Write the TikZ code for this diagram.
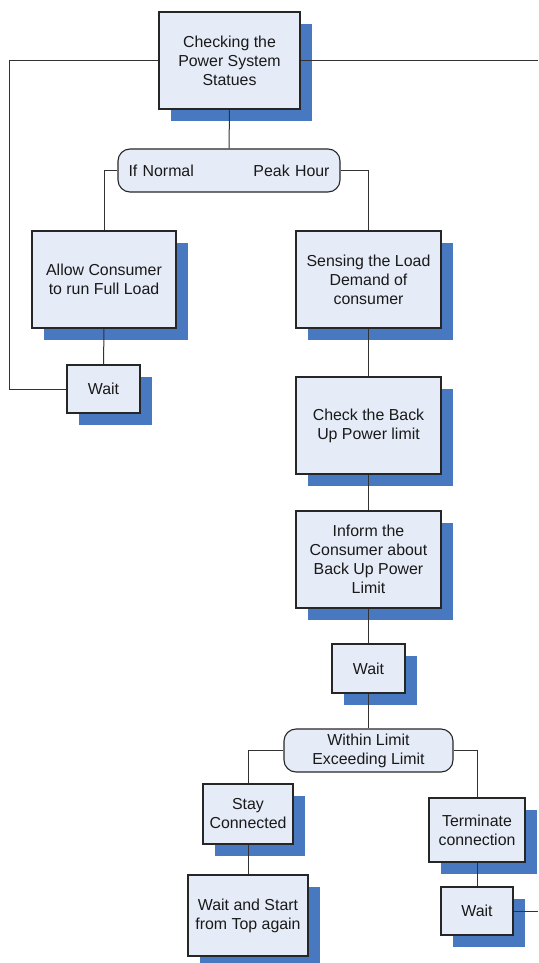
\documentclass[tikz,border=0pt]{standalone}
\usepackage{fontspec}
\setmainfont{Liberation Sans}
\usetikzlibrary{shadows}
\definecolor{boxfill}{RGB}{230,236,247}
\definecolor{shadowblue}{RGB}{72,120,192}
\definecolor{linegray}{RGB}{50,50,50}
\definecolor{textdark}{RGB}{25,25,25}
\tikzset{
  box/.style={draw=black!85, line width=1.1pt, fill=boxfill, text=textdark,
    align=center, inner sep=0pt, font=\fontsize{15.9}{19}\selectfont,
    drop shadow={shadow xshift=12pt, shadow yshift=-12pt, fill=shadowblue, opacity=1}},
  decbox/.style={draw=black!85, line width=1.1pt, fill=boxfill, text=textdark,
    rounded corners=12pt, inner sep=0pt, font=\fontsize{15.9}{19}\selectfont},
  conn/.style={draw=linegray, line width=1pt}
}
\begin{document}
\begin{tikzpicture}[x=1pt,y=-1pt]
\useasboundingbox (0,0) rectangle (538,963);
% nodes
\node[box, minimum width=141pt, minimum height=97pt] (top) at (229.5,60.5) {Checking the\\Power System\\Statues};
\node[decbox, minimum width=222pt, minimum height=43pt, text width=201pt, align=left] (dec1) at (229,170.5) {If Normal\hfill Peak Hour};
\node[box, minimum width=144pt, minimum height=97pt] (allow) at (104,279.5) {Allow Consumer\\to run Full Load};
\node[box, minimum width=73pt, minimum height=48pt] (wait1) at (103.5,389) {Wait};
\node[box, minimum width=145pt, minimum height=97pt] (sense) at (368.5,279.5) {Sensing the Load\\Demand of\\consumer};
\node[box, minimum width=145pt, minimum height=97pt] (check) at (368.5,425.5) {Check the Back\\Up Power limit};
\node[box, minimum width=145pt, minimum height=97pt] (inform) at (368.5,559.5) {Inform the\\Consumer about\\Back Up Power\\Limit};
\node[box, minimum width=73pt, minimum height=49pt] (wait2) at (368.5,668.5) {Wait};
\node[decbox, minimum width=169pt, minimum height=43pt, align=center] (dec2) at (368.5,750.5) {Within Limit\\Exceeding Limit};
\node[box, minimum width=90pt, minimum height=60pt] (stay) at (248,814) {Stay\\Connected};
\node[box, minimum width=120pt, minimum height=81pt] (waitstart) at (248,915.5) {Wait and Start\\from Top again};
\node[box, minimum width=96pt, minimum height=64pt] (term) at (477,830) {Terminate\\connection};
\node[box, minimum width=72pt, minimum height=48pt] (wait3) at (477,911) {Wait};
\coordinate (loopL) at (9,61);
\coordinate (outR1) at (538,61);
\coordinate (outR2) at (538,911);
% connectors
\draw[conn] (top.west |- loopL) -- (loopL) |- (wait1.west);
\draw[conn] (top.east |- outR1) -- (outR1);
\draw[conn] (top.south) -- (dec1.north);
\draw[conn] (dec1.west) -| (allow.north);
\draw[conn] (dec1.east) -| (sense.north);
\draw[conn] (allow.south) -- (wait1.north);
\draw[conn] (sense.south) -- (check.north);
\draw[conn] (check.south) -- (inform.north);
\draw[conn] (inform.south) -- (wait2.north);
\draw[conn] (wait2.south) -- (dec2.north);
\draw[conn] (dec2.west) -| (stay.north);
\draw[conn] (dec2.east) -| (term.north);
\draw[conn] (stay.south) -- (waitstart.north);
\draw[conn] (term.south) -- (wait3.north);
\draw[conn] (wait3.east) -- (outR2);
\end{tikzpicture}
\end{document}
